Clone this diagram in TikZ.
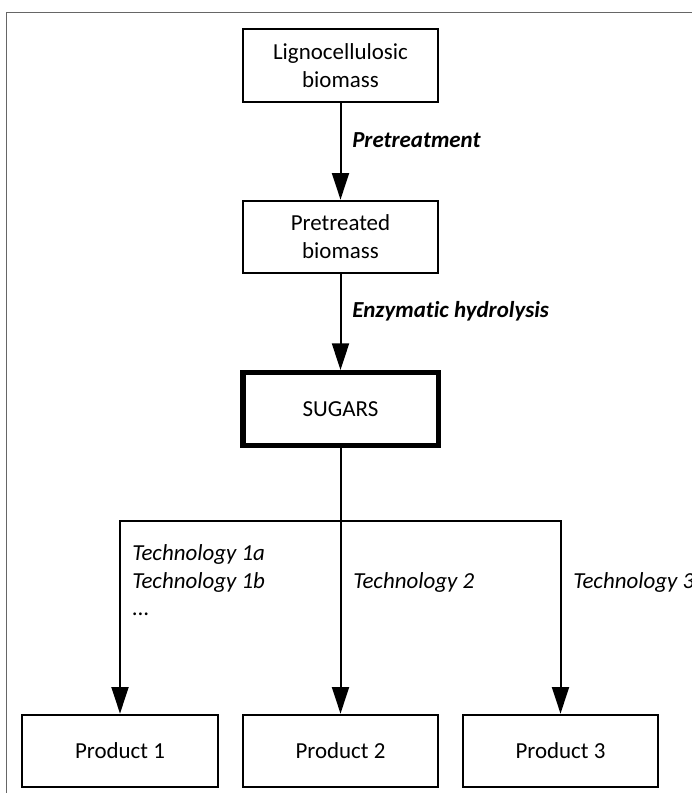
\documentclass[tikz,border=0pt]{standalone}
\usepackage{fontspec}
\setmainfont[Ligatures=NoCommon]{Carlito}
\usetikzlibrary{arrows.meta,positioning}

\begin{document}
\begin{tikzpicture}[x=0.75pt, y=-0.75pt,
    box/.style={draw, line width=1.5pt, minimum width=146.5pt, minimum height=54.5pt,
        align=center, inner sep=0pt, font=\fontsize{17.2}{21}\selectfont},
    mainbox/.style={box, line width=4pt},
    flow/.style={line width=1.5pt, -{Triangle[width=12.75pt, length=20pt]}},
    techlabel/.style={anchor=base west, inner sep=0pt, font=\fontsize{17.2}{21}\selectfont\itshape},
    frame/.style={draw=black!60, line width=0.75pt}]
    \useasboundingbox (0,0) rectangle (692,793);

    % Outer frame (cut off by the page)
    \draw[frame] (6,800) |- (700,12);

    % Main chain
    \node[box] (lig) at (340.5,65.5) {Lignocellulosic\\biomass};
    \node[box] (pre) at (340.5,237) {Pretreated\\biomass};
    \node[mainbox] (sug) at (340.5,409) {SUGARS};

    \draw[flow] (lig) -- (pre);
    \draw[flow] (pre) -- (sug);
    \node[techlabel] (tpre) at (352,147) {\bfseries Pretreatment};
    \node[techlabel] (tenz) at (352,317) {\bfseries Enzymatic hydrolysis};

    % Products
    \foreach \i/\x in {1/120, 2/340.5, 3/560.5}
        \node[box] (p\i) at (\x,751) {Product \i};

    % Branches
    \coordinate (split) at (340.5,521);
    \draw[flow] (sug) -- (p2);
    \draw[flow] (split) -| (p1);
    \draw[flow] (split) -| (p3);

    % Technologies
    \node[techlabel] (t1a) at (132,560) {Technology 1a};
    \node[techlabel] (t1b) at (132,588) {Technology 1b};
    \node[techlabel] (t1c) at (132,615) {...};
    \node[techlabel] (t2) at (353,588) {Technology 2};
    \node[techlabel] (t3) at (573,588) {Technology 3};
\end{tikzpicture}
\end{document}
